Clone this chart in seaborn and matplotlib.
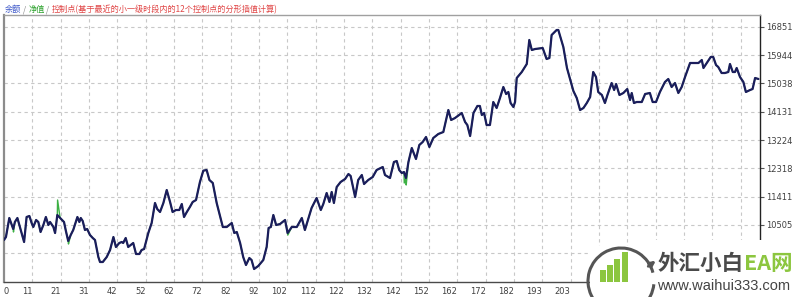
import matplotlib
matplotlib.use("Agg")
import matplotlib.pyplot as plt
import seaborn as sns
import pandas as pd
from matplotlib.patches import Rectangle, Arc, FancyArrowPatch

# ---------------- data ----------------
trade = [0, 0.7, 1.9, 2.8, 3.3, 3.9, 4.8, 5.7, 7.2, 8.1, 9.1, 9.9, 10.5, 11.5, 12.3, 13.1, 14.1, 15.0, 15.9, 16.5,
         17.7, 18.3, 19.1, 20.1, 20.8, 21.5, 22.1, 23.0, 23.9, 24.8, 26.3, 27.0, 27.5, 28.2, 29.0, 29.8, 30.8, 31.8, 32.6, 33.8,
         34.4, 35.4, 36.8, 38.0, 39.2, 40.1, 41.3, 42.2, 42.7, 43.6, 44.5, 45.4, 46.3, 47.3, 48.5, 49.3, 50.2, 51.7, 52.9, 54.1,
         54.9, 55.9, 57.1, 58.3, 59.5, 60.4, 61.6, 62.8, 63.7, 64.5, 65.5, 66.6, 67.6, 68.8, 70.2,
         71.4, 72.6, 73.6, 74.8, 76.2, 78.4, 79.8, 81.6, 82.5, 83.4, 84.6, 85.7, 86.7, 87.9, 88.7, 89.6, 91.1, 92.9, 94.1, 94.8,
         95.6, 96.5, 97.5, 98.9, 100.7, 101.6, 103.1, 104.9, 106.7, 107.8, 110.2, 112.0, 113.5, 114.4, 115.6, 116.6, 117.4, 118.2, 119.2, 120.6,
         122.2, 123.4, 124.2, 125.8, 126.9, 128.2, 129.0, 130.5, 132.1, 133.5, 135.7, 136.5, 138.3,
         139.7, 140.7, 141.6, 142.5, 143.3, 144.0, 144.9, 146.1, 147.6, 148.8, 150.0, 151.2, 152.4, 153.8, 155.6, 157.4, 159.2, 160.2, 161.6, 164.0,
         165.2, 166.0, 167.0, 168.2, 169.6, 170.5, 171.2, 172.0, 172.9, 174.1, 175.3, 176.5, 177.7, 178.9, 179.9, 180.7, 181.5, 182.5, 183.1, 183.7,
         185.5, 187.3, 188.2, 189.1, 190.3, 193.0, 194.4, 195.4, 196.2, 198.0, 198.6, 200.4, 201.7, 202.8, 204.0, 205.2, 206.4,
         207.6, 208.8, 210.0, 211.1, 212.1, 212.9, 214.2, 215.3, 216.2, 217.7, 218.6, 219.3, 220.5, 221.9, 223.3, 224.3, 224.9, 225.7, 226.7, 228.5,
         229.7, 231.4, 232.4, 233.6, 235.0, 236.8, 238.0, 239.2, 240.4, 241.6, 242.8, 244.0, 245.8, 248.8, 250.0, 250.6, 251.8, 253.2, 254.1, 255.1,
         255.9, 257.1, 258.3, 259.5, 260.1, 261.1, 261.9, 262.5, 263.7, 264.9, 265.8, 267.3, 268.2, 269.1, 270.3]

balance = [10025, 10121, 10729, 10505, 10377, 10601, 10729, 10441, 9961, 10761, 10793, 10569, 10441, 10665, 10601, 10281, 10505, 10761, 10505, 10601,
           10441, 10249, 10825, 10729, 10665, 10601, 10345, 9993, 10185, 10345, 10761, 10601, 10729, 10633, 10345, 10377, 10185, 10089, 10025, 9481,
           9321, 9321, 9481, 9705, 10121, 9801, 9929, 9961, 9929, 10089, 9801, 9865, 9929, 9577, 9577, 9705, 9737, 10249, 10569, 11209,
           11017, 10921, 11209, 11625, 11241, 10921, 10985, 10985, 11177, 10761, 10921, 11081, 11241, 11305, 11881,
           12243, 12265, 11945, 11849, 11209, 10441, 10441, 10569, 10249, 10281, 9929, 9481, 9225, 9449, 9385, 9097, 9193, 9385, 9801, 10409,
           10441, 10825, 10505, 10537, 10665, 10249, 10441, 10441, 10729, 10345, 11049, 11369, 10985, 11177, 11529, 11241, 11561, 11209, 11721, 11881,
           11977, 12137, 12073, 11401, 11945, 12105, 11817, 11945, 12041, 12265, 12361, 12105, 12009,
           12521, 12553, 12265, 12169, 12201, 12009, 12521, 12969, 12617, 13065, 13161, 13321, 13001, 13289, 13417, 13481, 14185, 13865, 13929, 14089,
           13801, 13705, 13353, 14089, 14313, 14313, 14025, 14089, 13705, 13705, 14441, 14249, 14569, 14921, 14697, 14761, 14409, 14281, 14441, 15209,
           15401, 15657, 16425, 16105, 16137, 16169, 15817, 15849, 16585, 16745, 16745, 16201, 15529, 15177, 14793, 14569, 14185,
           14249, 14409, 14601, 15401, 15241, 14761, 14665, 14409, 14665, 15049, 14825, 15017, 14665, 14729, 14857, 14505, 14729, 14409, 14441, 14441,
           14697, 14729, 14441, 14441, 14761, 15081, 15177, 14921, 15049, 14729, 14921, 15241, 15689, 15689, 15785, 15529, 15689, 15881, 15881, 15625,
           15561, 15369, 15369, 15401, 15657, 15401, 15401, 15529, 15241, 15081, 14761, 14825, 14857, 15209, 15177]

# equity only differs from balance at a few short excursions
equity_spike_trade = [3.4, 19.2, 23.1, 101.7, 143.4, 144.1]
equity_spike_value = [10281, 11305, 9897, 10185, 11849, 11785]

x_tick_labels = ["0", "11", "21", "31", "42", "52", "62", "72", "82", "92", "102",
                 "112", "122", "132", "142", "152", "162", "172", "182", "193", "203"]
y_tick_values = [10505, 11411, 12318, 13224, 14131, 15038, 15944, 16851]

title_parts = [("余额", "#3a55c8"), (" / ", "#8a8a8a"), ("净值", "#2aa02a"), (" / ", "#8a8a8a"),
               ("控制点(基于最近的小一级时段内的12个控制点的分形插值计算)", "#e04646")]

# ---------------- figure ----------------
W, H = 799, 297
sns.set_theme(style="white")
plt.rcParams["font.family"] = ["DejaVu Sans"]
fig = plt.figure(figsize=(W / 100, H / 100), dpi=100)
fig.patch.set_facecolor("white")


def fx(px):
    return px / W


def fy(py):
    return 1 - py / H


ax_left, ax_right, ax_top, ax_bottom = 4, 760, 15, 282
ax = fig.add_axes([fx(ax_left), fy(ax_bottom), fx(ax_right) - fx(ax_left), fy(ax_top) - fy(ax_bottom)])
ax.set_facecolor("white")

bal_df = pd.DataFrame({"trade": trade, "value": balance})
eq_df = pd.concat([bal_df, pd.DataFrame({"trade": equity_spike_trade, "value": equity_spike_value})]).sort_values("trade")

sns.lineplot(data=eq_df, x="trade", y="value", ax=ax, color="#3cb043", lw=1.0, estimator=None, sort=True, zorder=3)
sns.lineplot(data=bal_df, x="trade", y="value", ax=ax, color="#1b1d5c", lw=1.6, estimator=None, sort=True, zorder=4)

grid_step = 10.15
ax.set_xlim(0, (ax_right - ax_left) / 28.33 * grid_step)
units_per_px = 906.57 / 28.33
ax.set_ylim(10505 - (ax_bottom - 225) * units_per_px, 10505 + (225 - ax_top) * units_per_px)

# grid lines
for k in range(1, 27):
    ax.axvline(k * grid_step, color="#c8c8c8", lw=0.8, ls=(0, (3, 3)), zorder=1)
for v in [9598] + y_tick_values:
    ax.axhline(v, color="#c8c8c8", lw=0.8, ls=(0, (3, 3)), zorder=1)

ax.set_xticks([k * grid_step for k in range(len(x_tick_labels))])
ax.set_xticklabels(x_tick_labels)
ax.yaxis.tick_right()
ax.set_yticks(y_tick_values)
ax.set_yticklabels([str(v) for v in y_tick_values])
ax.tick_params(axis="x", length=2, width=0.8, color="#555555", pad=1.5, labelsize=6, labelcolor="#404040")
ax.tick_params(axis="y", length=3, width=0.8, color="#555555", pad=1.5, labelsize=6, labelcolor="#404040")
for i, lab in enumerate(ax.get_xticklabels()):
    lab.set_ha("left" if i == 0 else "right")
ax.set_xlabel("")
ax.set_ylabel("")

for side, col, lw in [("left", "#8c8c8c", 1.6), ("bottom", "#4a4a4a", 1.0), ("right", "#222222", 1.0), ("top", "#a0a0a0", 1.0)]:
    ax.spines[side].set_visible(True)
    ax.spines[side].set_color(col)
    ax.spines[side].set_linewidth(lw)

# ---------------- title (multi-coloured) ----------------
fig.canvas.draw()
renderer = fig.canvas.get_renderer()
x = 5
for txt, col in title_parts:
    t = fig.text(fx(x), fy(9.5), txt, color=col, fontsize=5.9, va="center", ha="left",
                 family=["Noto Sans CJK SC", "DejaVu Sans"])
    bb = t.get_window_extent(renderer)
    x = bb.x1

# ---------------- watermark logo ----------------
fig.add_artist(Rectangle((fx(590), fy(297)), fx(799) - fx(590), fy(246) - fy(297),
                         transform=fig.transFigure, facecolor="white", edgecolor="none", zorder=10))
fig.add_artist(Rectangle((fx(650), fy(297)), fx(799) - fx(650), fy(240) - fy(297),
                         transform=fig.transFigure, facecolor="white", edgecolor="none", zorder=10))
fig.add_artist(Arc((fx(621), fy(281)), fx(66), 66 / H, theta1=35, theta2=345,
                   transform=fig.transFigure, color="#555555", lw=2.2, zorder=11))
bars = [(600, 270), (607, 265), (614, 259), (622, 252)]
for bx, btop in bars:
    fig.add_artist(Rectangle((fx(bx), fy(282)), fx(5.5), fy(btop) - fy(282),
                             transform=fig.transFigure, facecolor="#8cc63f", edgecolor="none", zorder=11))
fig.add_artist(FancyArrowPatch((fx(646), fy(268)), (fx(658), fy(259)), transform=fig.transFigure,
                               arrowstyle="-|>", mutation_scale=8, color="#555555", lw=2, zorder=11))
t1 = fig.text(fx(658), fy(263), "外汇小白", color="#4a4a4a", fontsize=15.5, fontweight="bold",
              va="center", ha="left", family=["Noto Sans CJK SC"], zorder=12)
bb = t1.get_window_extent(renderer)
fig.text(bb.x1 / W, fy(263), "EA网", color="#8cc63f", fontsize=15.5, fontweight="bold",
         va="center", ha="left", family=["Noto Sans CJK SC"], zorder=12)
fig.text(fx(657), fy(286), "www.waihui333.com", color="#444444", fontsize=10.5,
         va="center", ha="left", family=["Liberation Sans"], zorder=12)

fig.savefig("out.png", dpi=100, facecolor="white")
